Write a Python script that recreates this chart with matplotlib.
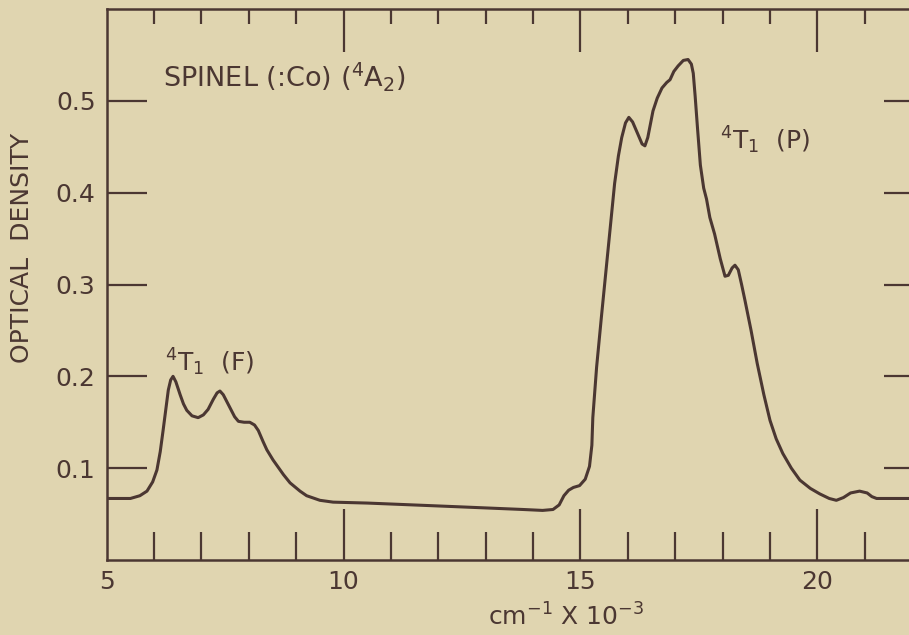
import matplotlib
matplotlib.use("Agg")
import matplotlib.pyplot as plt
from matplotlib.ticker import FixedLocator

# ---- data ----
wavenumber = [5.00, 5.50, 5.70, 5.85, 5.97, 6.06, 6.13, 6.19, 6.25, 6.30, 6.35, 6.40,
              6.46, 6.55, 6.62, 6.69, 6.80, 6.93, 7.04, 7.14, 7.25, 7.33, 7.39, 7.46,
              7.53, 7.60, 7.70, 7.78, 7.90, 8.02, 8.12, 8.20, 8.30, 8.38, 8.51, 8.73,
              8.87, 9.08, 9.22, 9.50, 9.78, 10.50, 10.98, 12.40, 13.79, 14.20, 14.42,
              14.55, 14.65, 14.75, 14.85, 14.98, 15.10, 15.19, 15.24, 15.26, 15.34,
              15.44, 15.58, 15.72, 15.80, 15.87, 15.95, 16.02, 16.10, 16.20, 16.30,
              16.36, 16.42, 16.53, 16.62, 16.72, 16.82, 16.89, 16.97, 17.06, 17.17,
              17.27, 17.34, 17.38, 17.42, 17.47, 17.53, 17.60, 17.66, 17.73, 17.83,
              17.95, 18.05, 18.12, 18.20, 18.26, 18.33, 18.40, 18.47, 18.60, 18.73,
              18.87, 19.00, 19.13, 19.27, 19.45, 19.63, 19.85, 20.05, 20.25, 20.40,
              20.55, 20.70, 20.89, 21.05, 21.15, 21.25, 21.60, 22.25]
optical_density = [0.067, 0.067, 0.070, 0.075, 0.085, 0.098, 0.118, 0.141, 0.165, 0.185,
                   0.196, 0.200, 0.194, 0.180, 0.170, 0.163, 0.157, 0.155, 0.158, 0.164,
                   0.175, 0.182, 0.184, 0.180, 0.173, 0.166, 0.156, 0.151, 0.150, 0.150,
                   0.147, 0.141, 0.129, 0.120, 0.109, 0.093, 0.084, 0.075, 0.070, 0.065,
                   0.063, 0.062, 0.061, 0.058, 0.055, 0.054, 0.055, 0.060, 0.070, 0.076,
                   0.079, 0.081, 0.088, 0.102, 0.125, 0.155, 0.210, 0.264, 0.337, 0.410,
                   0.440, 0.460, 0.476, 0.482, 0.477, 0.465, 0.453, 0.451, 0.460, 0.489,
                   0.503, 0.514, 0.520, 0.523, 0.532, 0.538, 0.544, 0.545, 0.540, 0.530,
                   0.505, 0.470, 0.430, 0.405, 0.393, 0.373, 0.355, 0.328, 0.309, 0.310,
                   0.318, 0.321, 0.316, 0.300, 0.283, 0.250, 0.214, 0.180, 0.152, 0.132,
                   0.116, 0.100, 0.087, 0.078, 0.072, 0.067, 0.065, 0.068, 0.073, 0.075,
                   0.073, 0.069, 0.067, 0.067, 0.067]

x_major = [5, 10, 15, 20]
x_minor = [6, 7, 8, 9, 11, 12, 13, 14, 16, 17, 18, 19, 21, 22]
y_ticks = [0.1, 0.2, 0.3, 0.4, 0.5]
y_ticklabels = ["0.1", "0.2", "0.3", "0.4", "0.5"]
x_ticklabels = ["5", "10", "15", "20"]

title_text = "SPINEL (:Co) ($^4$A$_2$)"
band_f = "$^4$T$_1$  (F)"
band_p = "$^4$T$_1$  (P)"
xlabel = "cm$^{-1}$ X 10$^{-3}$"
ylabel = "OPTICAL  DENSITY"

# ---- style ----
bg = "#e0d5b0"
ink = "#4b3732"
plt.rcParams["font.family"] = ["DejaVu Sans"]
plt.rcParams["mathtext.fontset"] = "dejavusans"

W, H = 909, 635
fig = plt.figure(figsize=(W / 100, H / 100), dpi=100, facecolor=bg)
ax = fig.add_axes([106.7 / W, (H - 560) / H, (924 - 106.7) / W, (560 - 9) / H])
ax.set_facecolor(bg)

ax.plot(wavenumber, optical_density, color=ink, lw=2.2, solid_joinstyle="round")

ax.set_xlim(5, 22.25)
ax.set_ylim(0, 0.6)

for sp in ax.spines.values():
    sp.set_color(ink)
    sp.set_linewidth(1.8)
    sp.set_zorder(5)

ax.xaxis.set_major_locator(FixedLocator(x_major))
ax.xaxis.set_minor_locator(FixedLocator(x_minor))
ax.set_xticklabels(x_ticklabels)
ax.set_yticks(y_ticks)
ax.set_yticklabels(y_ticklabels)

ax.tick_params(axis="x", which="major", direction="in", length=37, width=1.6,
               color=ink, labelcolor=ink, labelsize=18, pad=7, top=False)
ax.tick_params(axis="x", which="minor", direction="in", length=20, width=1.6,
               color=ink, top=False)
ax.tick_params(axis="y", which="major", direction="in", length=29, width=1.6,
               color=ink, labelcolor=ink, labelsize=18, pad=8, right=True)
ax.xaxis.get_major_ticks()[0].tick1line.set_visible(False)

top = ax.secondary_xaxis("top")
top.spines["top"].set_visible(False)
top.xaxis.set_major_locator(FixedLocator(x_major[1:]))
top.xaxis.set_minor_locator(FixedLocator(x_minor))
top.tick_params(axis="x", which="major", direction="in", length=31, width=1.6,
                color=ink, labeltop=False)
top.tick_params(axis="x", which="minor", direction="in", length=11, width=1.6,
                color=ink)

ax.text(6.19, 0.527, title_text, color=ink, fontsize=19.5, ha="left", va="center")
ax.text(6.23, 0.215, band_f, color=ink, fontsize=18, ha="left", va="center")
ax.text(17.94, 0.457, band_p, color=ink, fontsize=18, ha="left", va="center")

fig.text(566 / W, 1 - 617 / H, xlabel, color=ink, fontsize=18, ha="center", va="center")
fig.text(22 / W, 1 - 248 / H, ylabel, color=ink, fontsize=18, ha="center", va="center",
         rotation=90)

fig.savefig("out.png", dpi=100, facecolor=bg)
